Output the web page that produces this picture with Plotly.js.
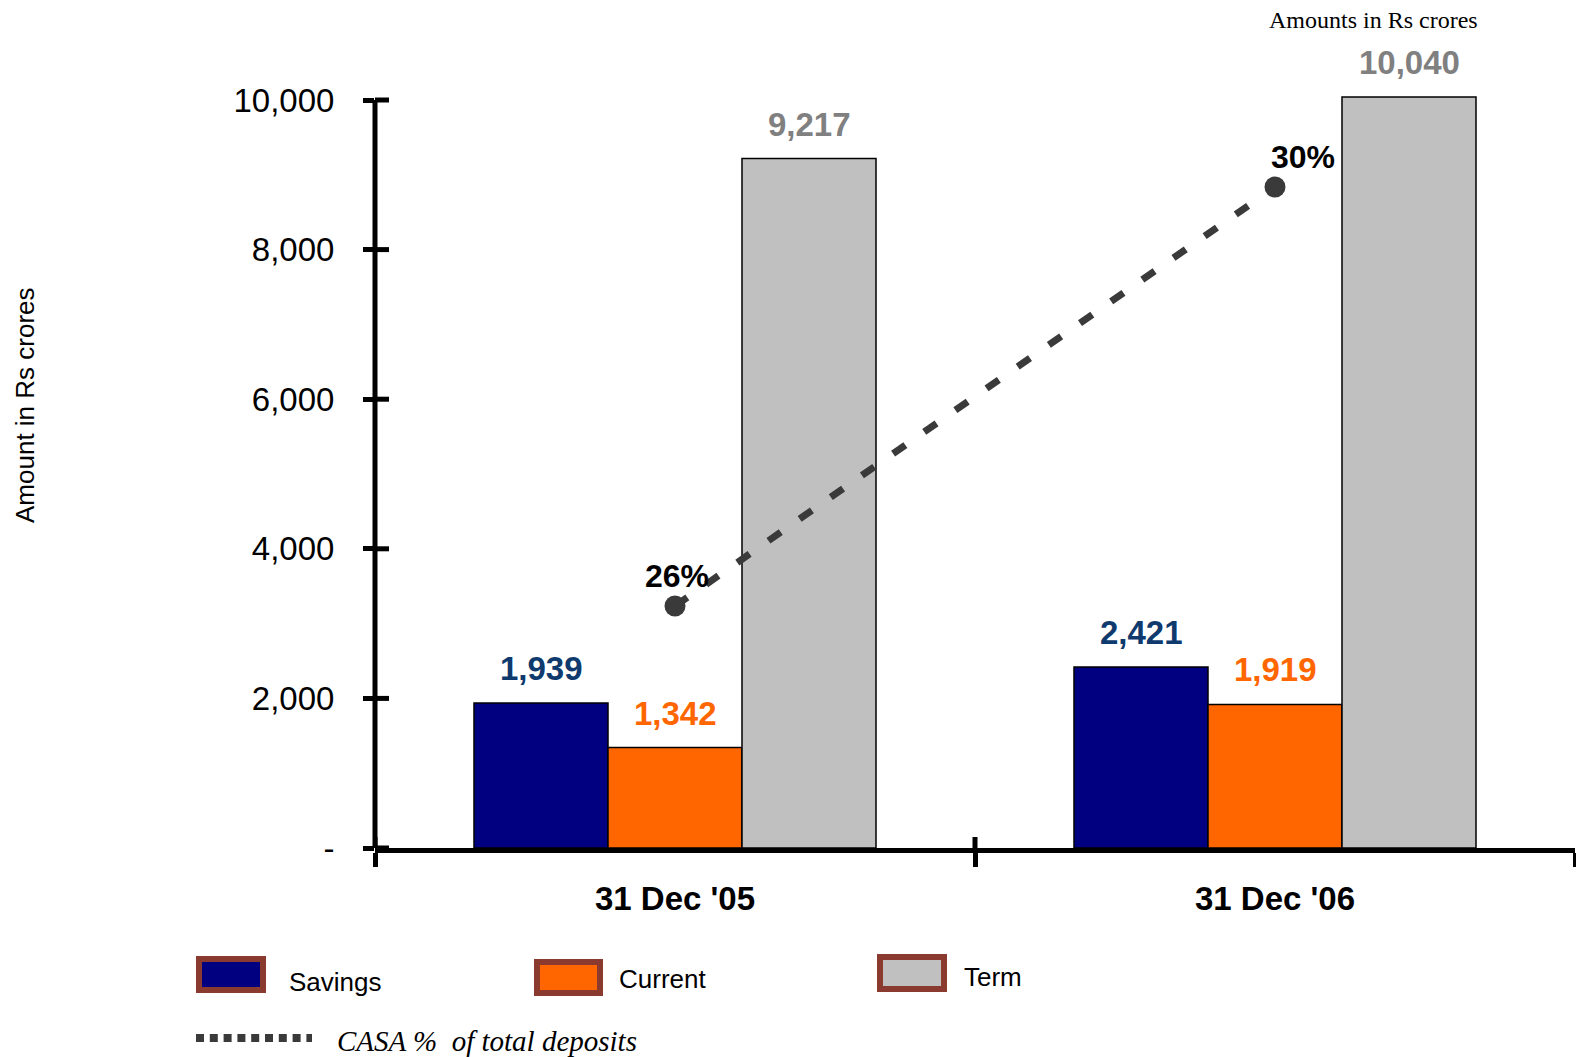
<!DOCTYPE html>
<html>
<head>
<meta charset="utf-8">
<script src="https://cdn.plot.ly/plotly-3.0.1.min.js"></script>
<style>html,body{margin:0;padding:0;background:#fff;}#chart{width:1576px;height:1057px;}</style>
</head>
<body>
<div id="chart"></div>
<script>
// ---- data ----
const categories = ["31 Dec '05", "31 Dec '06"];
const savings = [1939, 2421];
const current = [1342, 1919];
const term = [9217, 10040];
const casaPct = [26, 30];
const casaLabels = ["26%", "30%"];
const yTickVals = [0, 2000, 4000, 6000, 8000, 10000];
const yTickText = ["-", "2,000", "4,000", "6,000", "8,000", "10,000"];
const seriesNames = ["Savings", "Current", "Term"];
const legendLineName = "CASA %\u00A0 of total deposits";
const topNote = "Amounts in Rs crores";
const yTitle = "Amount in Rs crores";

// ---- geometry / style ----
const W = 1576, H = 1057;
const M = {l: 375, r: 1, t: 92, b: 209};
const PW = W - M.l - M.r, PH = H - M.t - M.b;
const barColors = ["#000080", "#FF6600", "#C0C0C0"];
const labelColors = ["#0E3A6E", "#FF6600", "#808080"];
const legendBorder = "#8B3A2F";
const lineColor = "#3A3A3A";
const FONT = "Arial, 'Liberation Sans', sans-serif";
const SERIF = "'Times New Roman', 'Liberation Serif', serif";
const bargap = 0.33;
const barPx = PW / categories.length * (1 - bargap) / 3;

const px = x => (x - M.l) / PW;
const pyy = y => (M.t + PH - y) / PH;

const seriesVals = [savings, current, term];

const traces = seriesVals.map((vals, i) => ({
  type: "bar",
  name: seriesNames[i],
  x: categories,
  y: vals,
  marker: {color: barColors[i], line: {color: "#000", width: 1.5}},
  hoverinfo: "x+y+name",
  showlegend: false
}));

traces.push({
  type: "scatter",
  mode: "lines+markers",
  name: legendLineName,
  x: categories,
  y: casaPct,
  yaxis: "y2",
  line: {color: lineColor, width: 7, dash: "15px,23px"},
  marker: {color: lineColor, size: 21},
  cliponaxis: false,
  showlegend: false
});

const annotations = [];
seriesVals.forEach((vals, i) => {
  vals.forEach((v, j) => {
    annotations.push({
      x: categories[j], y: v, xref: "x", yref: "y",
      text: v.toLocaleString("en-US"),
      showarrow: false, xanchor: "center", yanchor: "bottom",
      xshift: (i - 1) * barPx, yshift: 14,
      font: {family: FONT, size: 33, color: labelColors[i], weight: "bold"}
    });
  });
});

// CASA % labels
casaPct.forEach((v, j) => {
  annotations.push({
    x: categories[j], y: v, xref: "x", yref: "y2",
    text: casaLabels[j], showarrow: false,
    xanchor: j === 0 ? "center" : "left", yanchor: "bottom",
    xshift: j === 0 ? 2 : -6, yshift: 10,
    font: {family: FONT, size: 32, color: "#000", weight: "bold"}
  });
});

annotations.push({
  xref: "paper", yref: "paper", x: px(1373), y: pyy(20),
  text: topNote, showarrow: false, xanchor: "center", yanchor: "middle",
  font: {family: SERIF, size: 24, color: "#000"}
});
annotations.push({
  xref: "paper", yref: "paper", x: px(25), y: pyy(405),
  text: yTitle, showarrow: false, textangle: -90, xanchor: "center", yanchor: "middle",
  font: {family: FONT, size: 26, color: "#000"}
});

// legend (drawn)
const legendBoxes = [
  {x0: 199, x1: 263, y0: 959, y1: 990, tx: 287, ty: 982},
  {x0: 537, x1: 600, y0: 962, y1: 993, tx: 617, ty: 979},
  {x0: 880, x1: 944, y0: 957, y1: 989, tx: 962, ty: 977}
];
const shapes = [];
legendBoxes.forEach((b, i) => {
  shapes.push({type: "rect", xref: "paper", yref: "paper",
    x0: px(b.x0), x1: px(b.x1), y0: pyy(b.y0), y1: pyy(b.y1),
    fillcolor: barColors[i], line: {color: legendBorder, width: 6}});
  annotations.push({xref: "paper", yref: "paper", x: px(b.tx), y: pyy(b.ty),
    text: seriesNames[i], showarrow: false, xanchor: "left", yanchor: "middle",
    font: {family: FONT, size: 26, color: "#000"}});
});
shapes.push({type: "line", xref: "paper", yref: "paper",
  x0: px(196), x1: px(312), y0: pyy(1038), y1: pyy(1038),
  line: {color: lineColor, width: 8, dash: "8px,5.8px"}});
annotations.push({xref: "paper", yref: "paper", x: px(335), y: pyy(1041),
  text: legendLineName, showarrow: false, xanchor: "left", yanchor: "middle",
  font: {family: SERIF, size: 29, color: "#000", style: "italic"}});

// y axis line (from 0 to top tick)
shapes.push({type: "line", xref: "paper", yref: "y", x0: 0, x1: 0, y0: 0, y1: 10000,
  line: {color: "#000", width: 5}, layer: "above"});
// inner halves of the crossing tick marks
yTickVals.forEach(v => {
  shapes.push({type: "line", xref: "paper", yref: "y", x0: 0, x1: 14 / PW, y0: v, y1: v,
    line: {color: "#000", width: 5}, layer: "above"});
});
[-0.5, 0.5].forEach(b => {
  shapes.push({type: "line", xref: "x", yref: "paper", x0: b, x1: b, y0: 0, y1: 11 / PH,
    line: {color: "#000", width: 5}, layer: "above"});
});

const yRange = [0, 10107];
const layout = {
  width: W, height: H,
  margin: M,
  paper_bgcolor: "#fff", plot_bgcolor: "#fff",
  showlegend: false,
  barmode: "group", bargap: bargap, bargroupgap: 0,
  font: {family: FONT, color: "#000"},
  xaxis: {
    type: "category", range: [-0.5, 1.5],
    showline: true, linecolor: "#000", linewidth: 5,
    ticks: "outside", tickson: "boundaries", ticklen: 14, tickwidth: 5, tickcolor: "#000",
    ticklabelstandoff: 17,
    tickfont: {family: FONT, size: 33, color: "#000", weight: "bold"},
    showgrid: false, zeroline: false, fixedrange: true
  },
  yaxis: {
    range: yRange, tickmode: "array", tickvals: yTickVals, ticktext: yTickText,
    ticks: "outside", ticklen: 11, tickwidth: 5, tickcolor: "#000",
    ticklabelstandoff: 22,
    tickfont: {family: FONT, size: 33, color: "#000"},
    showline: false, showgrid: false, zeroline: false, fixedrange: true
  },
  yaxis2: {
    overlaying: "y", side: "right", range: [23.69, 30.907], visible: false, fixedrange: true
  },
  annotations: annotations,
  shapes: shapes
};

Plotly.newPlot("chart", traces, layout, {displayModeBar: false, staticPlot: true});
</script>
</body>
</html>
